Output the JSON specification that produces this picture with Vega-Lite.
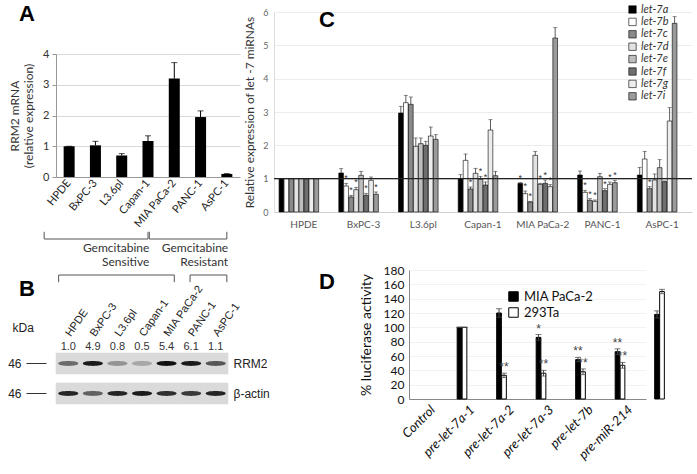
{
  "$schema": "https://vega.github.io/schema/vega-lite/v6.json",
  "background": "white",
  "padding": {"left": 7, "top": 3, "right": 0, "bottom": 0},
  "config": {
    "view": {"stroke": null},
    "font": "Liberation Sans",
    "axis": {"titleFontWeight": "normal", "labelColor": "#222", "titleColor": "#222", "labelOverlap": false},
    "title": {"fontWeight": "bold", "fontSize": 22, "color": "#000", "anchor": "start", "frame": "group", "font": "Liberation Sans"}
  },
  "bounds": "full",
  "spacing": -27,
  "resolve": {"scale": {"fill": "independent", "opacity": "independent"}, "legend": {"fill": "independent"}},
  "hconcat": [
    {
      "bounds": "flush",
      "spacing": 0,
      "vconcat": [
        {"width": 184, "height": 42, "data": {"values": []}, "mark": "point", "encoding": {}},
        {
          "bounds": "flush",
          "spacing": 53,
          "vconcat": [
            {
              "width": 184,
              "height": 123,
              "title": {"text": "A", "dx": -37, "offset": 22},
              "data": {"values": [
                {"line": "HPDE", "mrna": 1.0, "hi": 1.0},
                {"line": "BxPC-3", "mrna": 1.03, "hi": 1.16},
                {"line": "L3.6pl", "mrna": 0.70, "hi": 0.76},
                {"line": "Capan-1", "mrna": 1.17, "hi": 1.34},
                {"line": "MIA PaCa-2", "mrna": 3.2, "hi": 3.72},
                {"line": "PANC-1", "mrna": 1.95, "hi": 2.15},
                {"line": "AsPC-1", "mrna": 0.1, "hi": 0.11}
              ]},
              "resolve": {"axis": {"y": "independent"}},
              "encoding": {
                "x": {"field": "line", "type": "nominal", "sort": null,
                  "scale": {"type": "band", "paddingInner": 0.1, "paddingOuter": 0.05},
                  "axis": {"title": null, "labelAngle": -50, "labelFont": "Lato", "labelFontSize": 11, "ticks": false, "domainColor": "#999", "labelPadding": 4, "labelColor": "#222"}}
              },
              "layer": [
                {"mark": {"type": "bar", "color": "#000", "width": 11},
                 "encoding": {"y": {"field": "mrna", "type": "quantitative", "scale": {"domain": [0, 4]},
                   "axis": {"title": ["RRM2 mRNA", "(relative expression)"], "titleFont": "Lato", "titleFontSize": 12, "titlePadding": 7, "titleColor": "#333", "values": [0, 1, 2, 3, 4], "labelOverlap": false, "labelFont": "Lato", "labelFontSize": 11, "labelColor": "#333", "gridColor": "#d9d9d9", "domainColor": "#999", "tickColor": "#999", "tickSize": 4, "labelPadding": 3}}}},
                {"mark": {"type": "rule", "color": "#000"},
                 "encoding": {"y": {"field": "mrna", "type": "quantitative", "axis": null}, "y2": {"field": "hi"}}},
                {"mark": {"type": "tick", "color": "#000", "size": 6, "thickness": 1},
                 "encoding": {"y": {"field": "hi", "type": "quantitative", "axis": null}}}
              ]
            },
            {
              "bounds": "flush",
              "spacing": 69,
              "vconcat": [
                {
                  "width": 184,
                  "height": 54,
                  "data": {"values": [
                    {"tier": "upper", "group": "Gemcitabine\nSensitive", "first": "HPDE", "last": "Capan-1"},
                    {"tier": "upper", "group": "Gemcitabine\nResistant", "first": "MIA PaCa-2", "last": "AsPC-1"},
                    {"tier": "lower", "group": "Gemcitabine\nSensitive", "first": "HPDE", "last": "MIA PaCa-2"},
                    {"tier": "lower", "group": "Gemcitabine\nResistant", "first": "PANC-1", "last": "AsPC-1"}
                  ]},
                  "layer": [
                    {"transform": [{"filter": "datum.tier == 'upper'"}],
                     "mark": {"type": "rule", "color": "#555"},
                     "encoding": {
                       "x": {"field": "first", "type": "nominal", "bandPosition": -0.45, "scale": {"type": "band", "domain": ["HPDE", "BxPC-3", "L3.6pl", "Capan-1", "MIA PaCa-2", "PANC-1", "AsPC-1"], "paddingInner": 0, "paddingOuter": 0}, "axis": null},
                       "x2": {"field": "last", "bandPosition": 0.5},
                       "y": {"field": "tier", "type": "nominal", "scale": {"type": "band", "domain": ["upper", "label", "lower"], "paddingInner": 0, "paddingOuter": 0}, "axis": null}}},
                    {"transform": [{"filter": "datum.tier == 'upper'"}],
                     "mark": {"type": "rule", "color": "#555"},
                     "encoding": {
                       "x": {"field": "first", "type": "nominal", "bandPosition": -0.45},
                       "y": {"field": "tier", "type": "nominal", "bandPosition": 0.1},
                       "y2": {"field": "tier", "bandPosition": 0.5}}},
                    {"transform": [{"filter": "datum.tier == 'upper'"}],
                     "mark": {"type": "rule", "color": "#555"},
                     "encoding": {
                       "x": {"field": "last", "type": "nominal", "bandPosition": 0.5},
                       "y": {"field": "tier", "type": "nominal", "bandPosition": 0.1},
                       "y2": {"field": "tier", "bandPosition": 0.5}}},
                    {"transform": [{"filter": "datum.tier == 'lower'"}],
                     "mark": {"type": "rule", "color": "#555"},
                     "encoding": {
                       "x": {"field": "first", "type": "nominal", "bandPosition": 0.1},
                       "x2": {"field": "last", "bandPosition": 0.5},
                       "y": {"field": "tier", "type": "nominal"}}},
                    {"transform": [{"filter": "datum.tier == 'lower'"}],
                     "mark": {"type": "rule", "color": "#555"},
                     "encoding": {
                       "x": {"field": "first", "type": "nominal", "bandPosition": 0.1},
                       "y": {"field": "tier", "type": "nominal", "bandPosition": 0.5},
                       "y2": {"field": "tier", "bandPosition": 0.9}}},
                    {"transform": [{"filter": "datum.tier == 'lower'"}],
                     "mark": {"type": "rule", "color": "#555"},
                     "encoding": {
                       "x": {"field": "last", "type": "nominal", "bandPosition": 0.5},
                       "y": {"field": "tier", "type": "nominal", "bandPosition": 0.5},
                       "y2": {"field": "tier", "bandPosition": 0.9}}},
                    {"transform": [{"filter": "datum.tier == 'upper'"}],
                     "mark": {"type": "text", "align": "right", "baseline": "middle", "dy": -9, "lineBreak": "\n", "lineHeight": 14, "font": "Lato", "fontSize": 12, "color": "#333"},
                     "encoding": {
                       "x": {"field": "last", "type": "nominal", "bandPosition": 0.55},
                       "y": {"datum": "label"},
                       "text": {"field": "group"}}}
                  ]
                },
                {
                  "width": 172,
                  "height": 51,
                  "title": {"text": "B", "dx": -37, "offset": -19},
                  "data": {"values": [
                    {"lane": "HPDE", "protein": "RRM2", "dens": 0.55, "ratio": 1.0},
                    {"lane": "BxPC-3", "protein": "RRM2", "dens": 0.95, "ratio": 4.9},
                    {"lane": "L3.6pl", "protein": "RRM2", "dens": 0.35, "ratio": 0.8},
                    {"lane": "Capan-1", "protein": "RRM2", "dens": 0.25, "ratio": 0.5},
                    {"lane": "MIA PaCa-2", "protein": "RRM2", "dens": 1.0, "ratio": 5.4},
                    {"lane": "PANC-1", "protein": "RRM2", "dens": 0.95, "ratio": 6.1},
                    {"lane": "AsPC-1", "protein": "RRM2", "dens": 0.65, "ratio": 1.1},
                    {"lane": "HPDE", "protein": "β-actin", "dens": 0.9},
                    {"lane": "BxPC-3", "protein": "β-actin", "dens": 0.6},
                    {"lane": "L3.6pl", "protein": "β-actin", "dens": 0.9},
                    {"lane": "Capan-1", "protein": "β-actin", "dens": 0.95},
                    {"lane": "MIA PaCa-2", "protein": "β-actin", "dens": 0.85},
                    {"lane": "PANC-1", "protein": "β-actin", "dens": 0.8},
                    {"lane": "AsPC-1", "protein": "β-actin", "dens": 0.9}
                  ]},
                  "resolve": {"axis": {"y": "independent"}},
                  "layer": [
                    {"mark": {"type": "rect", "fill": "#dadada", "stroke": "#dadada", "strokeWidth": 0.6},
                     "encoding": {
                       "x": {"field": "lane", "type": "nominal", "sort": null,
                         "scale": {"type": "band", "domain": ["HPDE", "BxPC-3", "L3.6pl", "Capan-1", "MIA PaCa-2", "PANC-1", "AsPC-1"], "paddingInner": 0, "paddingOuter": 0},
                         "axis": {"orient": "top", "title": null, "labelAngle": -55, "labelFontSize": 11, "domain": false, "ticks": false, "labelPadding": 18, "labelColor": "#222"}},
                       "y": {"field": "protein", "type": "nominal",
                         "scale": {"type": "band", "domain": ["RRM2", "β-actin"], "paddingInner": 0.3, "paddingOuter": 0},
                         "axis": {"orient": "left", "labelExpr": "'46'", "domain": false, "tickSize": 20, "tickColor": "#333", "offset": 10, "labelPadding": 5, "labelFontSize": 12, "labelColor": "#222", "title": "kDa", "titleAngle": 0, "titleAlign": "left", "titleBaseline": "middle", "titleX": -34, "titleY": -26, "titleFontSize": 12}}}},
                    {"mark": {"type": "point", "shape": "M-1,0C-1,-0.32 1,-0.32 1,0C1,0.32 -1,0.32 -1,0Z", "filled": true, "color": "#111", "size": 400, "strokeWidth": 0},
                     "encoding": {
                       "x": {"field": "lane", "type": "nominal", "sort": null},
                       "y": {"field": "protein", "type": "nominal",
                         "axis": {"orient": "right", "domain": false, "ticks": false, "labelPadding": 5, "labelFontSize": 12, "labelColor": "#222", "title": null}},
                       "opacity": {"field": "dens", "type": "quantitative", "scale": null}}},
                    {"transform": [{"filter": "datum.protein == 'RRM2'"}],
                     "mark": {"type": "text", "dy": -17, "fontSize": 11, "color": "#333"},
                     "encoding": {
                       "x": {"field": "lane", "type": "nominal", "sort": null},
                       "y": {"field": "protein", "type": "nominal", "axis": null},
                       "text": {"field": "ratio", "type": "quantitative", "format": ".1f"}}}
                  ]
                }
              ]
            }
          ]
        }
      ]
    },
    {
      "bounds": "flush",
      "spacing": 58,
      "resolve": {"scale": {"fill": "independent"}, "legend": {"fill": "independent"}},
      "vconcat": [
        {
          "width": 418,
          "height": 200,
          "title": {"text": "C", "dx": 45, "offset": -28},
          "resolve": {"axis": {"y": "independent"}},
          "layer": [
            {
              "resolve": {"axis": {"y": "independent"}},
              "data": {"values": [
                {"l": "HPDE", "m": "let-7a", "v": 1, "h": 1, "s": ""},
                {"l": "HPDE", "m": "let-7b", "v": 1, "h": 1, "s": ""},
                {"l": "HPDE", "m": "let-7c", "v": 1, "h": 1, "s": ""},
                {"l": "HPDE", "m": "let-7d", "v": 1, "h": 1, "s": ""},
                {"l": "HPDE", "m": "let-7e", "v": 1, "h": 1, "s": ""},
                {"l": "HPDE", "m": "let-7f", "v": 1, "h": 1, "s": ""},
                {"l": "HPDE", "m": "let-7g", "v": 1, "h": 1, "s": ""},
                {"l": "HPDE", "m": "let-7i", "v": 1, "h": 1, "s": ""},
                {"l": "BxPC-3", "m": "let-7a", "v": 1.17, "h": 1.30, "s": ""},
                {"l": "BxPC-3", "m": "let-7b", "v": 0.78, "h": 0.86, "s": "*"},
                {"l": "BxPC-3", "m": "let-7c", "v": 0.45, "h": 0.50, "s": "*"},
                {"l": "BxPC-3", "m": "let-7d", "v": 0.67, "h": 0.74, "s": "*"},
                {"l": "BxPC-3", "m": "let-7e", "v": 1.10, "h": 1.22, "s": ""},
                {"l": "BxPC-3", "m": "let-7f", "v": 0.50, "h": 0.56, "s": "*"},
                {"l": "BxPC-3", "m": "let-7g", "v": 0.95, "h": 1.05, "s": ""},
                {"l": "BxPC-3", "m": "let-7i", "v": 0.53, "h": 0.60, "s": "*"},
                {"l": "L3.6pl", "m": "let-7a", "v": 2.97, "h": 3.17, "s": ""},
                {"l": "L3.6pl", "m": "let-7b", "v": 3.28, "h": 3.50, "s": ""},
                {"l": "L3.6pl", "m": "let-7c", "v": 3.23, "h": 3.45, "s": ""},
                {"l": "L3.6pl", "m": "let-7d", "v": 1.97, "h": 2.22, "s": ""},
                {"l": "L3.6pl", "m": "let-7e", "v": 2.05, "h": 2.22, "s": ""},
                {"l": "L3.6pl", "m": "let-7f", "v": 2.00, "h": 2.12, "s": ""},
                {"l": "L3.6pl", "m": "let-7g", "v": 2.28, "h": 2.55, "s": ""},
                {"l": "L3.6pl", "m": "let-7i", "v": 2.18, "h": 2.32, "s": ""},
                {"l": "Capan-1", "m": "let-7a", "v": 1.00, "h": 1.12, "s": ""},
                {"l": "Capan-1", "m": "let-7b", "v": 1.55, "h": 1.74, "s": ""},
                {"l": "Capan-1", "m": "let-7c", "v": 0.69, "h": 0.75, "s": "*"},
                {"l": "Capan-1", "m": "let-7d", "v": 1.16, "h": 1.31, "s": ""},
                {"l": "Capan-1", "m": "let-7e", "v": 0.98, "h": 1.07, "s": "*"},
                {"l": "Capan-1", "m": "let-7f", "v": 0.81, "h": 0.90, "s": "*"},
                {"l": "Capan-1", "m": "let-7g", "v": 2.46, "h": 2.77, "s": ""},
                {"l": "Capan-1", "m": "let-7i", "v": 1.09, "h": 1.22, "s": ""},
                {"l": "MIA PaCa-2", "m": "let-7a", "v": 0.86, "h": 0.88, "s": "*"},
                {"l": "MIA PaCa-2", "m": "let-7b", "v": 0.55, "h": 0.63, "s": "*"},
                {"l": "MIA PaCa-2", "m": "let-7c", "v": 0.30, "h": 0.32, "s": "*"},
                {"l": "MIA PaCa-2", "m": "let-7d", "v": 1.70, "h": 1.82, "s": ""},
                {"l": "MIA PaCa-2", "m": "let-7e", "v": 0.83, "h": 0.86, "s": "*"},
                {"l": "MIA PaCa-2", "m": "let-7f", "v": 0.86, "h": 0.96, "s": "*"},
                {"l": "MIA PaCa-2", "m": "let-7g", "v": 0.76, "h": 0.82, "s": "*"},
                {"l": "MIA PaCa-2", "m": "let-7i", "v": 5.22, "h": 5.53, "s": ""},
                {"l": "PANC-1", "m": "let-7a", "v": 1.11, "h": 1.23, "s": ""},
                {"l": "PANC-1", "m": "let-7b", "v": 0.59, "h": 0.65, "s": "*"},
                {"l": "PANC-1", "m": "let-7c", "v": 0.35, "h": 0.40, "s": "*"},
                {"l": "PANC-1", "m": "let-7d", "v": 0.32, "h": 0.36, "s": "*"},
                {"l": "PANC-1", "m": "let-7e", "v": 1.06, "h": 1.16, "s": ""},
                {"l": "PANC-1", "m": "let-7f", "v": 0.64, "h": 0.70, "s": "*"},
                {"l": "PANC-1", "m": "let-7g", "v": 0.83, "h": 0.90, "s": "*"},
                {"l": "PANC-1", "m": "let-7i", "v": 0.88, "h": 0.95, "s": "*"},
                {"l": "AsPC-1", "m": "let-7a", "v": 1.11, "h": 1.34, "s": ""},
                {"l": "AsPC-1", "m": "let-7b", "v": 1.59, "h": 1.82, "s": ""},
                {"l": "AsPC-1", "m": "let-7c", "v": 0.70, "h": 0.76, "s": "*"},
                {"l": "AsPC-1", "m": "let-7d", "v": 0.96, "h": 1.14, "s": ""},
                {"l": "AsPC-1", "m": "let-7e", "v": 1.33, "h": 1.57, "s": ""},
                {"l": "AsPC-1", "m": "let-7f", "v": 0.91, "h": 0.93, "s": ""},
                {"l": "AsPC-1", "m": "let-7g", "v": 2.73, "h": 3.13, "s": ""},
                {"l": "AsPC-1", "m": "let-7i", "v": 5.66, "h": 5.86, "s": ""}
              ]},
              "encoding": {
                "x": {"field": "l", "type": "nominal", "sort": null,
                  "scale": {"type": "band", "paddingInner": 0.17, "paddingOuter": 0.085},
                  "axis": {"title": null, "labelAngle": 0, "labelFont": "Lato", "labelFontSize": 10, "labelColor": "#555", "ticks": false, "domainColor": "#d0d0d0", "labelPadding": 7}},
                "xOffset": {"field": "m", "type": "nominal", "sort": null, "scale": {"paddingInner": 0.06}}
              },
              "layer": [
                {"mark": {"type": "bar", "stroke": "#000", "strokeWidth": 0.6},
                 "encoding": {
                   "y": {"field": "v", "type": "quantitative", "scale": {"domain": [0, 6]},
                     "axis": {"values": [0, 1, 2, 3, 4, 5, 6], "labelOverlap": false, "title": "Relative expression of let -7 miRNAs", "titleFont": "Lato", "titleFontSize": 12, "titleColor": "#333", "titlePadding": 6, "labelFont": "Lato", "labelFontSize": 9, "labelColor": "#666", "ticks": false, "labelPadding": 6, "gridColor": "#ececec", "domainColor": "#ddd"}},
                   "fill": {"field": "m", "type": "nominal", "sort": null,
                     "scale": {"range": ["#000000", "#ffffff", "#8a8a8a", "#e2e2e2", "#bdbdbd", "#6e6e6e", "#ededed", "#9b9b9b"]},
                     "legend": {"title": null, "orient": "none", "legendX": 353, "legendY": -8, "symbolType": "square", "symbolSize": 55, "symbolStrokeColor": "#000", "symbolStrokeWidth": 0.6, "labelFont": "Lato", "labelFontSize": 11, "labelFontStyle": "italic", "labelColor": "#333", "rowPadding": 0.4, "labelOffset": 3}}}},
                {"mark": {"type": "rule", "color": "#333", "strokeWidth": 0.8},
                 "encoding": {"y": {"field": "v", "type": "quantitative", "axis": null}, "y2": {"field": "h"}}},
                {"mark": {"type": "tick", "color": "#333", "size": 4, "thickness": 0.8},
                 "encoding": {"y": {"field": "h", "type": "quantitative", "axis": null}}},
                {"transform": [{"filter": "datum.s != ''"}],
                 "mark": {"type": "text", "dy": -5, "fontSize": 9, "color": "#333"},
                 "encoding": {"y": {"field": "h", "type": "quantitative", "axis": null}, "text": {"field": "s"}}}
              ]
            },
            {
              "data": {"values": [{"baseline": 1}]},
              "mark": {"type": "rule", "color": "#222", "strokeWidth": 1.3},
              "encoding": {"y": {"field": "baseline", "type": "quantitative", "axis": null}}
            }
          ]
        },
        {
          "bounds": "flush",
          "spacing": 0,
          "resolve": {"scale": {"fill": "independent"}, "legend": {"fill": "independent"}},
          "hconcat": [
            {"width": 135, "height": 10, "data": {"values": []}, "mark": "point", "encoding": {}},
            {
              "width": 237,
              "height": 129,
              "title": {"text": "D", "dx": -90, "offset": -30},
              "resolve": {"axis": {"y": "independent"}},
              "data": {"values": [
                {"construct": "Control", "cell": "MIA PaCa-2", "v": 100, "lo": 100, "hi": 100, "star": ""},
                {"construct": "pre-let-7a-1", "cell": "MIA PaCa-2", "v": 120, "lo": 114, "hi": 126, "star": ""},
                {"construct": "pre-let-7a-2", "cell": "MIA PaCa-2", "v": 86, "lo": 82, "hi": 90, "star": "*"},
                {"construct": "pre-let-7a-3", "cell": "MIA PaCa-2", "v": 55, "lo": 52, "hi": 58, "star": "**"},
                {"construct": "pre-let-7b", "cell": "MIA PaCa-2", "v": 66, "lo": 62, "hi": 70, "star": "**"},
                {"construct": "pre-miR-214", "cell": "MIA PaCa-2", "v": 118, "lo": 113, "hi": 123, "star": ""},
                {"construct": "Control", "cell": "293Ta", "v": 100, "lo": 100, "hi": 100, "star": ""},
                {"construct": "pre-let-7a-1", "cell": "293Ta", "v": 33, "lo": 30, "hi": 36, "star": "**"},
                {"construct": "pre-let-7a-2", "cell": "293Ta", "v": 36, "lo": 32, "hi": 40, "star": "**"},
                {"construct": "pre-let-7a-3", "cell": "293Ta", "v": 38, "lo": 34, "hi": 42, "star": "**"},
                {"construct": "pre-let-7b", "cell": "293Ta", "v": 47, "lo": 43, "hi": 51, "star": "**"},
                {"construct": "pre-miR-214", "cell": "293Ta", "v": 150, "lo": 147, "hi": 153, "star": ""}
              ]},
              "encoding": {
                "x": {"field": "construct", "type": "nominal", "sort": null,
                  "scale": {"type": "band", "paddingInner": 0.42, "paddingOuter": 0.21},
                  "axis": {"title": null, "labelAngle": -45, "labelFont": "Lato", "labelFontStyle": "italic", "labelFontSize": 13, "labelColor": "#111", "ticks": false, "domainColor": "#888", "labelPadding": 4}},
                "xOffset": {"field": "cell", "type": "nominal", "sort": null, "scale": {"paddingInner": 0}}
              },
              "layer": [
                {"mark": {"type": "bar", "stroke": "#000", "strokeWidth": 1},
                 "encoding": {
                   "y": {"field": "v", "type": "quantitative", "scale": {"domain": [0, 180]},
                     "axis": {"values": [0, 20, 40, 60, 80, 100, 120, 140, 160, 180], "labelOverlap": false, "title": "% luciferase activity", "titleFont": "Lato", "titleFontSize": 14, "titleColor": "#111", "titlePadding": 10, "labelFont": "Lato", "labelFontSize": 12, "labelColor": "#111", "ticks": false, "labelPadding": 5, "gridColor": "#f2f2f2", "domainColor": "#888"}},
                   "fill": {"field": "cell", "type": "nominal", "sort": null,
                     "scale": {"range": ["#000000", "#ffffff"]},
                     "legend": {"title": null, "orient": "none", "legendX": 98, "legendY": 20, "symbolType": "square", "symbolSize": 90, "symbolStrokeColor": "#000", "symbolStrokeWidth": 1, "labelFont": "Lato", "labelFontSize": 13, "labelColor": "#111", "rowPadding": 1}}}},
                {"mark": {"type": "rule", "color": "#444"},
                 "encoding": {"y": {"field": "lo", "type": "quantitative", "axis": null}, "y2": {"field": "hi"}}},
                {"mark": {"type": "tick", "color": "#444", "size": 6, "thickness": 1},
                 "encoding": {"y": {"field": "hi", "type": "quantitative", "axis": null}}},
                {"mark": {"type": "tick", "color": "#444", "size": 6, "thickness": 1},
                 "encoding": {"y": {"field": "lo", "type": "quantitative", "axis": null}}},
                {"transform": [{"filter": "datum.star != ''"}],
                 "mark": {"type": "text", "dy": -6, "fontSize": 12, "color": "#444"},
                 "encoding": {"y": {"field": "hi", "type": "quantitative", "axis": null}, "text": {"field": "star"}}}
              ]
            }
          ]
        }
      ]
    }
  ]
}
